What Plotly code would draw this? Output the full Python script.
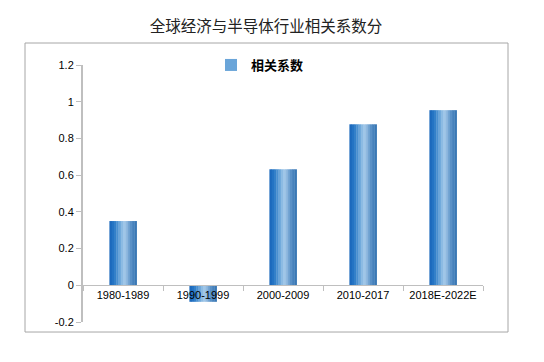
import plotly.graph_objects as go

categories = ["1980-1989", "1990-1999", "2000-2009", "2010-2017", "2018E-2022E"]
values = [0.35, -0.09, 0.632, 0.877, 0.954]
series_name = "相关系数"
y_ticks = [-0.2, 0, 0.2, 0.4, 0.6, 0.8, 1, 1.2]
y_tick_labels = ["-0.2", "0", "0.2", "0.4", "0.6", "0.8", "1", "1.2"]

# gradient stops across the bar width (left -> right)
grad = ["#1c69bd", "#2473c3", "#3380c9", "#4a90d0", "#6aa5d9", "#8cbbe3",
        "#9fc6e8", "#8fb9e0", "#74a5d3", "#5a91c7", "#4682bd", "#3a78b5"]

bar_w = 0.34
n = len(grad)
sw = bar_w / n

fig = go.Figure()
for i, c in enumerate(grad):
    fig.add_trace(go.Bar(
        x=categories, y=values,
        width=[sw * 1.15] * len(categories),
        offset=-bar_w / 2 + i * sw,
        marker=dict(color=c, line=dict(width=0)),
        name=series_name,
        showlegend=(i == 4),
        hoverinfo="skip" if i != 4 else None,
    ))

fig.update_layout(
    width=544, height=362,
    margin=dict(l=75, r=69, t=57, b=48),
    paper_bgcolor="white", plot_bgcolor="white",
    barmode="overlay",
    title=dict(text="全球经济与半导体行业相关系数分", x=(266 - 8) / 544, xanchor="center",
               y=0.948, yanchor="middle",
               font=dict(family="Noto Sans CJK SC", size=15.5, color="#222")),
    legend=dict(x=0.32, y=1.0, xanchor="left", yanchor="middle",
                bgcolor="rgba(0,0,0,0)",
                font=dict(family="Noto Sans CJK SC", size=13, color="#000", weight="bold"),
                itemwidth=30),
    showlegend=True,
)

fig.update_yaxes(
    range=[-0.2, 1.2], tickvals=y_ticks, ticktext=y_tick_labels,
    showgrid=False, zeroline=False,
    showline=True, linecolor="#bfbfbf", linewidth=2,
    ticks="outside", ticklen=5, tickcolor="#bfbfbf", tickwidth=1,
    tickfont=dict(family="Liberation Sans", size=11, color="#000"),
)
fig.update_xaxes(
    anchor="free", position=1/7,
    showgrid=False, zeroline=False,
    showline=True, linecolor="#bfbfbf", linewidth=1,
    ticks="outside", ticklen=5, tickcolor="#bfbfbf", tickson="boundaries",
    tickfont=dict(family="Liberation Sans", size=11, color="#000"),
)

fig.add_shape(type="rect", xref="paper", yref="paper",
              x0=-0.145, x1=1.0625, y0=-0.039, y1=1.0856,
              line=dict(color="#a6a6a6", width=1), fillcolor="rgba(0,0,0,0)",
              layer="below")

fig.write_html("out.html")
